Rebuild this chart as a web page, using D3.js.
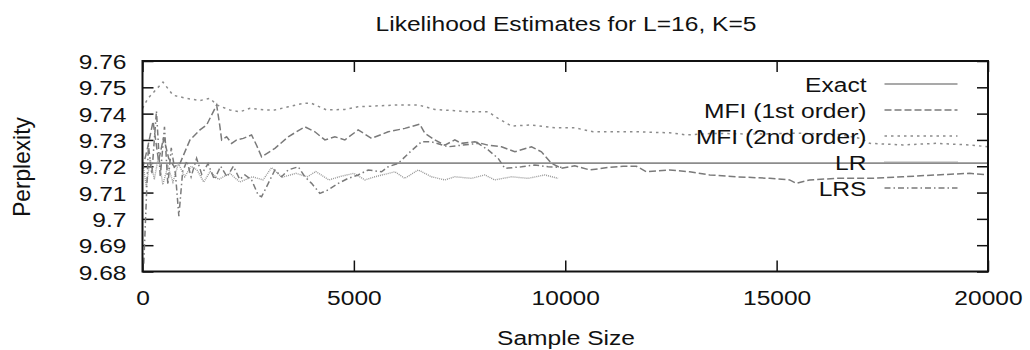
<!DOCTYPE html>
<html>
<head>
<meta charset="utf-8">
<script src="https://cdn.jsdelivr.net/npm/d3@7"></script>
<style>
  body { margin: 0; background: #fff; }
  svg { display: block; }
  text { font-family: "Liberation Sans", Arial, sans-serif; fill: #111; }
</style>
</head>
<body>
<div id="chart"></div>
<script>
// values: [sample size, perplexity]
const exact = [[0, 9.7212], [20000, 9.7212]];

const mfi1 = [[0, 9.719], [120, 9.727], [250, 9.737], [380, 9.722], [500, 9.731], [620, 9.723],
  [750, 9.7198], [887, 9.7211], [1123, 9.73], [1359, 9.7338], [1518, 9.7357], [1754, 9.7433],
  [1832, 9.735], [1872, 9.73], [1990, 9.7312], [2108, 9.7287], [2227, 9.73], [2384, 9.7306],
  [2580, 9.7319], [2698, 9.728], [2817, 9.7236], [3132, 9.7268], [3447, 9.7312], [3841, 9.735],
  [4078, 9.7331], [4314, 9.73], [4551, 9.7312], [4787, 9.73], [5102, 9.7338], [5418, 9.7306],
  [5812, 9.7331], [6206, 9.7344], [6560, 9.736], [6679, 9.7325], [6915, 9.73], [7151, 9.728],
  [7388, 9.73], [7545, 9.7287], [7861, 9.7293], [8176, 9.728], [8492, 9.7274], [8807, 9.7255],
  [9201, 9.7274], [9437, 9.7255], [9673, 9.7211], [9910, 9.7192], [10225, 9.7202], [10579, 9.7186],
  [11052, 9.7196], [11367, 9.72], [11683, 9.72], [11919, 9.7179], [12470, 9.7186], [12943, 9.7179],
  [13416, 9.7167], [14047, 9.716], [14835, 9.7154], [15307, 9.7148], [15465, 9.7135], [15780, 9.7148],
  [16411, 9.7154], [17199, 9.7154], [17980, 9.716], [18777, 9.7167], [19563, 9.7173], [20000, 9.7168]];

const mfi2 = [[0, 9.742], [130, 9.7458], [485, 9.752], [720, 9.747], [1045, 9.7458], [1360, 9.745],
  [1596, 9.7458], [1754, 9.7433], [2069, 9.7414], [2305, 9.7407], [2541, 9.742], [2896, 9.7414],
  [3132, 9.7414], [3447, 9.7426], [3802, 9.7439], [3999, 9.7439], [4355, 9.7414], [4787, 9.7416],
  [5094, 9.7426], [5497, 9.7429], [6048, 9.7433], [6521, 9.7433], [6915, 9.7416], [7388, 9.7411],
  [7703, 9.7407], [8176, 9.7407], [8412, 9.7382], [8728, 9.7353], [9201, 9.7357], [9752, 9.7346],
  [10225, 9.7346], [10658, 9.7331], [11683, 9.7331], [12470, 9.7327], [12865, 9.7319], [13500, 9.7325],
  [14500, 9.7322], [15500, 9.7326], [16500, 9.732], [17000, 9.7305], [17199, 9.7287], [17980, 9.7281],
  [18777, 9.7287], [19563, 9.7281], [20000, 9.7274]];

const lr = [[20, 9.72], [90, 9.712], [180, 9.723], [280, 9.715], [380, 9.724], [480, 9.713],
  [600, 9.72], [720, 9.714], [850, 9.721], [1000, 9.716], [1150, 9.72], [1290, 9.7186], [1450, 9.714],
  [1600, 9.718], [1800, 9.715], [2069, 9.7173], [2300, 9.714], [2600, 9.716], [2850, 9.7148],
  [3054, 9.7195], [3300, 9.7158], [3630, 9.7173], [3900, 9.716], [4100, 9.718], [4410, 9.7148],
  [4700, 9.7162], [5000, 9.7173], [5261, 9.7148], [5497, 9.716], [5970, 9.7179], [6206, 9.7154],
  [6521, 9.7186], [6836, 9.716], [7151, 9.7148], [7388, 9.716], [7782, 9.7154], [8097, 9.7167],
  [8333, 9.7148], [8728, 9.716], [9122, 9.7154], [9516, 9.7167], [9831, 9.7154]];

const lrs = [[30, 9.683], [80, 9.703], [140, 9.728], [220, 9.717], [330, 9.741], [420, 9.716],
  [520, 9.735], [600, 9.713], [680, 9.727], [780, 9.717], [860, 9.701], [950, 9.718], [1050, 9.722],
  [1150, 9.716], [1280, 9.723], [1400, 9.717], [1550, 9.721], [1700, 9.715], [1850, 9.72],
  [2000, 9.716], [2150, 9.72], [2300, 9.715], [2423, 9.7167], [2580, 9.7148], [2738, 9.709],
  [2817, 9.7084], [2975, 9.7135], [3132, 9.7186], [3290, 9.716], [3447, 9.7186], [3683, 9.7198],
  [3841, 9.716], [4000, 9.7135], [4196, 9.7097], [4393, 9.711], [4630, 9.7135], [4866, 9.7154],
  [5102, 9.7167], [5340, 9.7186], [5655, 9.7179], [5812, 9.7198], [6048, 9.7211], [6300, 9.725],
  [6600, 9.7293], [6836, 9.7293], [7230, 9.7274], [7545, 9.728], [7940, 9.7287], [8176, 9.7262],
  [8412, 9.723], [8570, 9.7192], [8965, 9.7198], [9280, 9.7205], [9594, 9.7198], [9910, 9.7196]];

const seriesNames = ['Exact', 'MFI (1st order)', 'MFI (2nd order)', 'LR', 'LRS'];
const xTicks = [0, 5000, 10000, 15000, 20000];
const yTicks = [9.68, 9.69, 9.70, 9.71, 9.72, 9.73, 9.74, 9.75, 9.76];

const W = 1030, H = 350;
const m = { left: 142.5, right: 42, top: 61, bottom: 78.5 };
const iw = W - m.left - m.right, ih = H - m.top - m.bottom;
const SX = 1.17; // the picture's text is a bit wider than it is tall

const svg = d3.select('#chart').append('svg').attr('width', W).attr('height', H);
const x = d3.scaleLinear().domain([0, 20000]).range([0, iw]);
const y = d3.scaleLinear().domain([9.68, 9.76]).range([ih, 0]);
const g = svg.append('g').attr('transform', `translate(${m.left},${m.top})`);

const styles = [
  { data: exact, dash: null, color: '#8c8c8c', w: 1.7 },
  { data: mfi1, dash: '7,3', color: '#7a7a7a', w: 1.5 },
  { data: mfi2, dash: '2.5,4', color: '#8c8c8c', w: 1.5 },
  { data: lr, dash: '1,1', color: '#999', w: 1.4 },
  { data: lrs, dash: '6,3,1.5,3', color: '#7a7a7a', w: 1.5 }
];

const line = d3.line().x(d => x(d[0])).y(d => y(d[1]));

// inward ticks on all four sides
g.append('g').attr('transform', `translate(0,${ih})`)
  .call(d3.axisBottom(x).tickValues(xTicks).tickSize(-11).tickFormat(''));
g.append('g').call(d3.axisTop(x).tickValues(xTicks).tickSize(-11).tickFormat(''));
g.append('g').call(d3.axisLeft(y).tickValues(yTicks).tickSize(-11).tickFormat(''));
g.append('g').attr('transform', `translate(${iw},0)`)
  .call(d3.axisRight(y).tickValues(yTicks).tickSize(-11).tickFormat(''));
g.selectAll('.domain').remove();
g.selectAll('.tick line').attr('stroke', '#111').attr('stroke-width', 1.5);

// tick labels
const yl = g.append('g').call(d3.axisLeft(y).tickValues(yTicks).tickSize(0).tickFormat(d3.format('')));
yl.select('.domain').remove();
yl.selectAll('text').attr('x', -16 / SX).attr('dy', '0.36em')
  .attr('transform', `scale(${SX},1)`).style('font-size', '21px');

const xl = g.append('g').attr('transform', `translate(0,${ih})`)
  .call(d3.axisBottom(x).tickValues(xTicks).tickSize(0).tickFormat(d3.format('')));
xl.select('.domain').remove();
xl.selectAll('text').attr('y', 19).attr('dy', '0.71em')
  .attr('transform', `scale(${SX},1)`).style('font-size', '21px');

// series
styles.forEach(s => {
  g.append('path').datum(s.data).attr('d', line)
    .attr('fill', 'none').attr('stroke', s.color).attr('stroke-width', s.w)
    .attr('stroke-dasharray', s.dash);
});

// border
g.append('rect').attr('width', iw).attr('height', ih)
  .attr('fill', 'none').attr('stroke', '#111').attr('stroke-width', 2);

// legend
const leg = g.append('g').attr('transform', `translate(${866.5 - m.left},${84 - m.top})`);
styles.forEach((s, i) => {
  const row = leg.append('g').attr('transform', `translate(0,${i * 26})`);
  row.append('line').attr('x1', 18).attr('x2', 91)
    .attr('stroke', s.color).attr('stroke-width', s.w).attr('stroke-dasharray', s.dash);
  row.append('text').attr('text-anchor', 'end').attr('dy', '0.36em')
    .attr('transform', `scale(${SX},1)`).style('font-size', '21px').text(seriesNames[i]);
});

// titles
svg.append('text').attr('transform', `translate(566,23) scale(${SX},1)`)
  .attr('text-anchor', 'middle').attr('dy', '0.36em').style('font-size', '21px')
  .text('Likelihood Estimates for L=16, K=5');
svg.append('text').attr('transform', `translate(566,337) scale(${SX},1)`)
  .attr('text-anchor', 'middle').attr('dy', '0.36em').style('font-size', '21px')
  .text('Sample Size');
svg.append('text').attr('transform', `translate(21,167) rotate(-90) scale(1.08,${SX})`)
  .attr('text-anchor', 'middle').attr('dy', '0.36em').style('font-size', '21px')
  .text('Perplexity');
</script>
</body>
</html>
